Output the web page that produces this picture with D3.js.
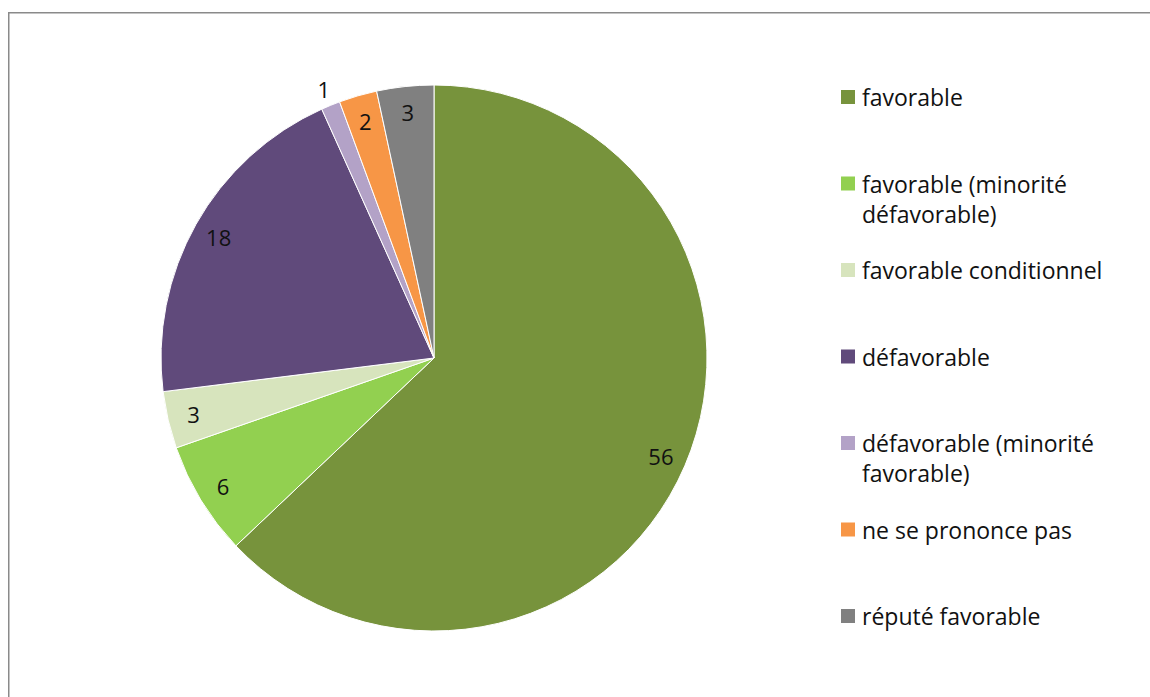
<!DOCTYPE html>
<html>
<head>
<meta charset="utf-8">
<script src="https://cdn.jsdelivr.net/npm/d3@7"></script>
<style>
  html, body { margin: 0; padding: 0; background: #fff; }
  svg { display: block; }
  text { font-family: "Open Sans", sans-serif; fill: #111; }
</style>
</head>
<body>
<svg id="chart" width="1150" height="697"></svg>
<script>
// Avis recueillis, par catégorie
const categories = [
  "favorable",
  "favorable (minorité défavorable)",
  "favorable conditionnel",
  "défavorable",
  "défavorable (minorité favorable)",
  "ne se prononce pas",
  "réputé favorable"
];
const values = [56, 6, 3, 18, 1, 2, 3];
const colors = ["#77933C", "#92D050", "#D7E4BD", "#604A7B", "#B3A2C7", "#F79646", "#808080"];
// Legend lines (long entries wrap on two lines)
const legendLines = [
  ["favorable"],
  ["favorable (minorité", "défavorable)"],
  ["favorable conditionnel"],
  ["défavorable"],
  ["défavorable (minorité", "favorable)"],
  ["ne se prononce pas"],
  ["réputé favorable"]
];

const svg = d3.select("#chart");

// Chart area frame
svg.append("rect")
  .attr("x", 8.75).attr("y", 12.75)
  .attr("width", 1200).attr("height", 760)
  .attr("fill", "#fff")
  .attr("stroke", "#8a8a8a")
  .attr("stroke-width", 1.5);

const cx = 434, cy = 358, R = 273;
const total = d3.sum(values);

const pie = d3.pie().sort(null).value(d => d.value);
const data = pie(categories.map((c, i) => ({ cat: c, value: values[i], color: colors[i] })));

const arc = d3.arc().innerRadius(0).outerRadius(R);

const g = svg.append("g").attr("transform", `translate(${cx},${cy})`);

g.selectAll("path.slice")
  .data(data)
  .join("path")
  .attr("class", "slice")
  .attr("d", arc)
  .attr("fill", d => d.data.color)
  .attr("stroke", "#fff")
  .attr("stroke-width", 1);

// Value labels: inside the slice, or just outside when the slice is too thin
g.selectAll("text.val")
  .data(data)
  .join("text")
  .attr("class", "val")
  .each(function (d) {
    const mid = (d.startAngle + d.endAngle) / 2;
    const r = d.data.value / total < 0.015 ? R + 18 : 247;
    d3.select(this)
      .attr("x", r * Math.sin(mid))
      .attr("y", -r * Math.cos(mid));
  })
  .attr("text-anchor", "middle")
  .attr("dominant-baseline", "central")
  .attr("font-size", 22)
  .text(d => d.data.value);

// Legend
const yBand = d3.scalePoint().domain(categories).range([97, 616]);
const leg = svg.append("g");
const items = leg.selectAll("g.item")
  .data(categories)
  .join("g")
  .attr("class", "item")
  .attr("transform", d => `translate(841,${yBand(d)})`);

items.append("rect")
  .attr("x", 0).attr("y", -7)
  .attr("width", 14).attr("height", 14)
  .attr("fill", (d, i) => colors[i]);

items.each(function (d, i) {
  const t = d3.select(this).append("text")
    .attr("x", 21)
    .attr("font-size", 23);
  legendLines[i].forEach((line, j) => {
    t.append("tspan")
      .attr("x", 21)
      .attr("y", j * 30)
      .attr("dominant-baseline", "central")
      .text(line);
  });
});
</script>
</body>
</html>
